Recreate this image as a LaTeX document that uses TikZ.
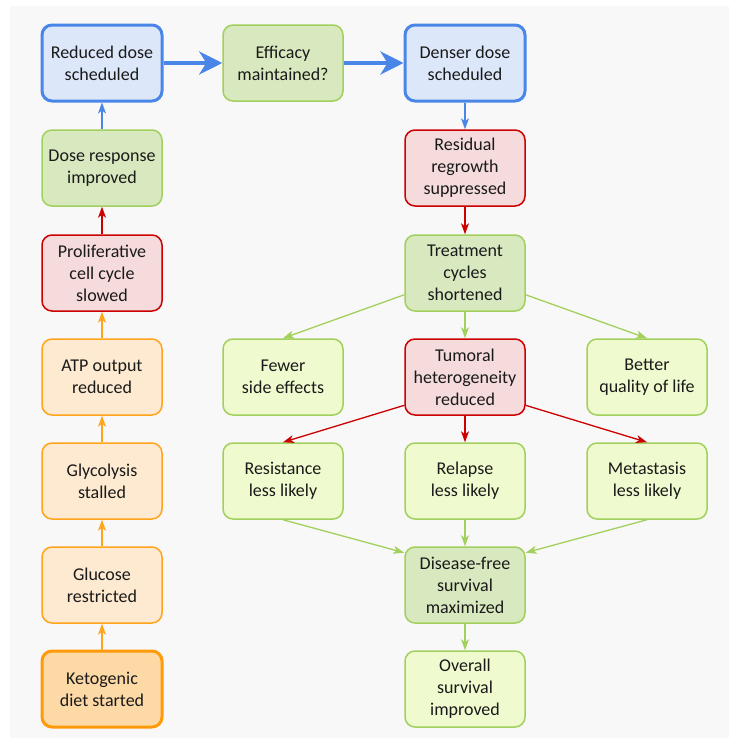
\documentclass[tikz,border=0pt]{standalone}
\usepackage{fontspec}
\setmainfont{Carlito}
\usepackage{xcolor}
\usepackage{tikz}
\usetikzlibrary{arrows.meta}

\definecolor{bggray}{HTML}{F8F8F8}
\definecolor{blueline}{HTML}{4A86E8}
\definecolor{bluefill}{HTML}{DCE7F9}
\definecolor{greenline}{HTML}{A2D05C}
\definecolor{greenfill}{HTML}{D8E9BF}
\definecolor{lightfill}{HTML}{EFFBCF}
\definecolor{redline}{HTML}{CC0000}
\definecolor{redfill}{HTML}{F5DBDB}
\definecolor{orangeline}{HTML}{FFA41C}
\definecolor{orangefill}{HTML}{FDEAD0}
\definecolor{ketoline}{HTML}{FF9A0A}
\definecolor{ketofill}{HTML}{FDD9A6}
\definecolor{textgray}{HTML}{1A1A1A}

\tikzset{
  blueb/.style={draw=blueline, fill=bluefill, line width=3pt},
  greenb/.style={draw=greenline, fill=greenfill},
  lightb/.style={draw=greenline, fill=lightfill},
  redb/.style={draw=redline, fill=redfill},
  orangeb/.style={draw=orangeline, fill=orangefill},
  ketob/.style={draw=ketoline, fill=ketofill, line width=3pt},
  arr/.style={-{Stealth[length=11pt, width=8pt, inset=3pt]}, line width=1.3pt},
  bigarr/.style={-{Stealth[length=23pt, width=23pt, inset=7pt]}, line width=4pt, blueline}
}

\begin{document}
\begin{tikzpicture}[x=1pt, y=-1pt, every node/.style={rectangle, rounded corners=10pt, draw, line width=1.5pt, minimum width=120pt, minimum height=76pt, align=center, inner sep=2pt, text=textgray, font=\fontsize{18}{22}\selectfont}]
	\useasboundingbox (0,0) rectangle (738,744);
	\fill[bggray] (10,6) rectangle (729,738);

	% Nodes, left column
	\node[blueb] (red) at (102,63) {Reduced dose\\scheduled};
	\node[greenb] (resp) at (102,168) {Dose response\\improved};
	\node[redb] (prol) at (102,273) {Proliferative\\cell cycle\\slowed};
	\node[orangeb] (atp) at (102,377) {ATP output\\reduced};
	\node[orangeb] (glyc) at (102,481) {Glycolysis\\stalled};
	\node[orangeb] (gluc) at (102,585) {Glucose\\restricted};
	\node[ketob] (keto) at (102,689) {Ketogenic\\diet started};

	% Nodes, top row and right part
	\node[greenb] (eff) at (283,63) {Efficacy\\maintained?};
	\node[blueb] (dense) at (465,63) {Denser dose\\scheduled};
	\node[redb] (resid) at (465,168) {Residual\\regrowth\\suppressed};
	\node[greenb] (treat) at (465,273) {Treatment\\cycles\\shortened};
	\node[lightb] (fewer) at (283,377) {Fewer\\side effects};
	\node[redb] (tum) at (465,377) {Tumoral\\heterogeneity\\reduced};
	\node[lightb] (qual) at (647,377) {Better\\quality of life};
	\node[lightb] (resis) at (283,481) {Resistance\\less likely};
	\node[lightb] (relap) at (465,481) {Relapse\\less likely};
	\node[lightb] (meta) at (647,481) {Metastasis\\less likely};
	\node[greenb] (dfs) at (465,585) {Disease-free\\survival\\maximized};
	\node[lightb] (os) at (465,689) {Overall\\survival\\improved};

	% Edges, left column (upwards)
	\draw[arr, orangeline] (keto) -- (gluc);
	\draw[arr, orangeline] (gluc) -- (glyc);
	\draw[arr, orangeline] (glyc) -- (atp);
	\draw[arr, orangeline] (atp) -- (prol);
	\draw[arr, redline] (prol) -- (resp);
	\draw[arr, blueline] (resp) -- (red);

	% Edges, top row
	\draw[bigarr] (red) -- (eff);
	\draw[bigarr] (eff) -- (dense);

	% Edges, right part
	\draw[arr, blueline] (dense) -- (resid);
	\draw[arr, redline] (resid) -- (treat);
	\draw[arr, greenline] (treat) -- (fewer.north);
	\draw[arr, greenline] (treat) -- (tum);
	\draw[arr, greenline] (treat) -- (qual.north);
	\draw[arr, redline] (tum.205) -- (resis.north);
	\draw[arr, redline] (tum) -- (relap);
	\draw[arr, redline] (tum.335) -- (meta.north);
	\draw[arr, greenline] (resis.south) -- (dfs.152);
	\draw[arr, greenline] (relap) -- (dfs);
	\draw[arr, greenline] (meta.south) -- (dfs.28);
	\draw[arr, greenline] (dfs) -- (os);
\end{tikzpicture}
\end{document}
